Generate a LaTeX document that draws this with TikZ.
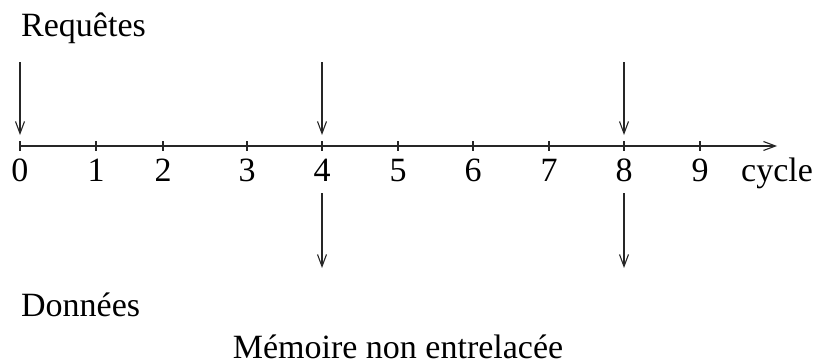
\documentclass[tikz,border=0pt]{standalone}
\usepackage{fontspec}
\setmainfont{Liberation Serif}
\usetikzlibrary{arrows.meta}
\begin{document}
\begin{tikzpicture}[x=1pt,y=-1pt,
  line/.style={line width=1.1pt,draw=black!85},
  arr/.style={line, -{Straight Barb[length=12pt,width=9pt,line width=1.1pt]}},
  lbl/.style={inner sep=0pt,font=\fontsize{34}{40}\selectfont},
]
\useasboundingbox (0,0) rectangle (814,364);
% axis
\coordinate (a0) at (20,146);
\coordinate (aend) at (777,146);
\draw[arr] (a0) -- (aend);
% ticks and numbers
\foreach \n/\x in {0/20,1/96,2/163,3/247,4/322,5/398,6/473,7/549,8/624,9/700}{
  \coordinate (t\n) at (\x,146);
  \draw[line] (\x,141) -- (\x,151);
  \node[lbl,anchor=base] (n\n) at (\x,181) {\n};
}
\node[lbl,anchor=base west] (cyc) at (741,181) {cycle};
% request arrows
\coordinate (r0s) at (20,62);  \coordinate (r0e) at (20,135);
\coordinate (r4s) at (322,62); \coordinate (r4e) at (322,135);
\coordinate (r8s) at (624,62); \coordinate (r8e) at (624,135);
\draw[arr] (r0s) -- (r0e);
\draw[arr] (r4s) -- (r4e);
\draw[arr] (r8s) -- (r8e);
% data arrows
\coordinate (d4s) at (322,193); \coordinate (d4e) at (322,268);
\coordinate (d8s) at (624,193); \coordinate (d8e) at (624,268);
\draw[arr] (d4s) -- (d4e);
\draw[arr] (d8s) -- (d8e);
% labels
\node[lbl,anchor=base west] (req) at (21,36) {Requêtes};
\node[lbl,anchor=base west] (don) at (21,316) {Données};
\node[lbl,anchor=base] (mem) at (398,358) {Mémoire non entrelacée};
\end{tikzpicture}
\end{document}
